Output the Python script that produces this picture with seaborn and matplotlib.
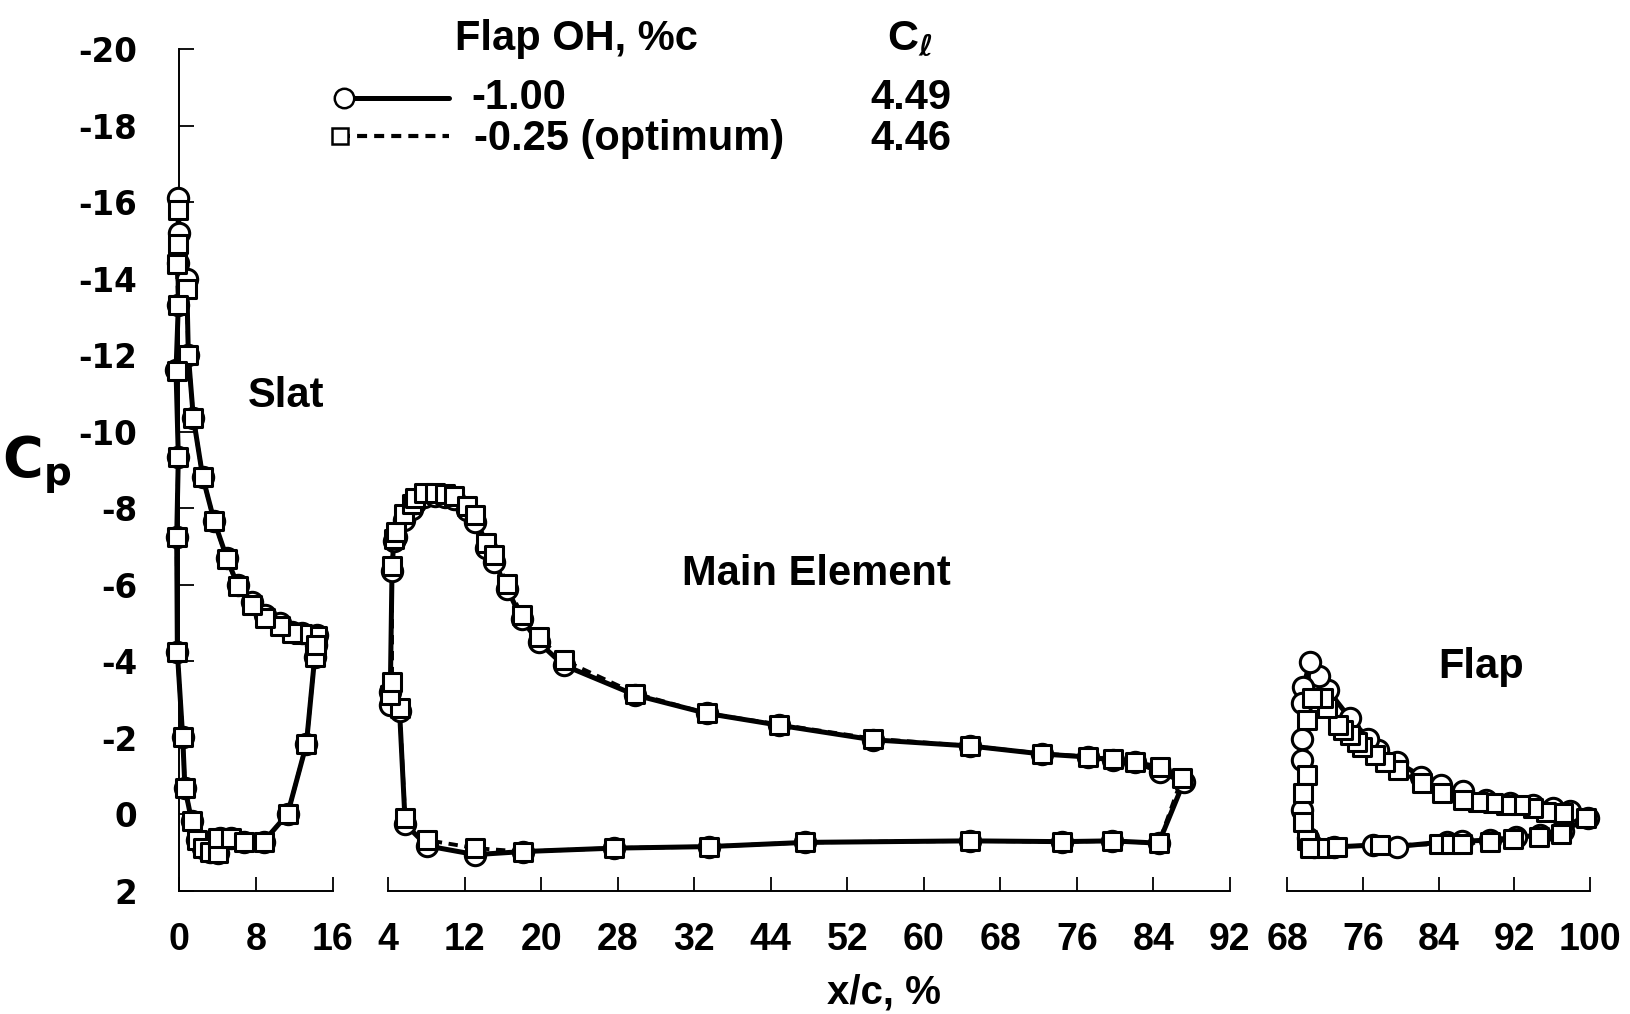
import numpy as np
import pandas as pd
import matplotlib
matplotlib.use("Agg")
import matplotlib.pyplot as plt
from matplotlib.lines import Line2D
import seaborn as sns

# ---- pressure data, x/c in %, Cp ----
# Flap overhang -1.00 %c (circles, solid)
SLAT_X_A = [14.34, 12.78, 11.74, 10.52, 8.96, 7.57, 6.08, 4.97, 3.65, 2.47, 1.49, 0.97, 0.80,
            0.00, -0.07, -0.10, -0.07, -0.31, -0.07, -0.24, -0.17, 0.38, 0.62, 1.32, 1.84,
            2.53, 3.23, 4.10, 4.30, 5.38, 6.77, 8.78, 11.28, 13.23, 14.10, 14.24]
SLAT_CP_A = [-4.70, -4.74, -4.78, -4.99, -5.22, -5.55, -6.00, -6.70, -7.67, -8.81, -10.37, -12.00,
             -13.98, -15.20, -16.10, -14.40, -13.30, -11.60, -9.35, -7.24, -4.24, -2.03, -0.68,
             0.17, 0.67, 0.88, 0.97, 1.01, 0.62, 0.62, 0.71, 0.71, -0.01, -1.83, -4.11, -4.43]

MAIN_X_A = [84.55, 79.67, 74.45, 64.80, 47.60, 37.50, 27.58, 18.07, 13.13, 8.07, 5.80, 5.21,
            4.20, 4.24, 4.42, 4.60, 4.87, 5.63, 6.50, 6.85, 7.72, 8.94, 10.00, 10.86, 12.26,
            13.13, 14.27, 15.11, 16.44, 18.00, 19.74, 22.36, 29.85, 37.33, 44.90, 54.70, 64.80,
            72.36, 77.20, 79.80, 82.10, 84.70, 87.15]
MAIN_CP_A = [0.75, 0.69, 0.71, 0.69, 0.73, 0.84, 0.88, 0.97, 1.05, 0.82, 0.25, -2.70,
             -2.85, -3.20, -6.37, -7.15, -7.25, -7.70, -7.98, -8.15, -8.30, -8.33, -8.30, -8.25,
             -7.95, -7.64, -6.95, -6.60, -5.90, -5.10, -4.50, -3.90, -3.12, -2.64, -2.33, -1.95,
             -1.79, -1.58, -1.50, -1.42, -1.36, -1.12, -0.84]

FLAP_X_A = [99.78, 97.85, 96.09, 93.98, 91.52, 89.06, 86.60, 84.30, 82.20, 79.57, 77.60, 76.58,
            74.65, 72.36, 71.41, 70.43, 69.72, 69.55, 69.55, 69.55, 69.55, 70.25, 70.90, 73.00,
            77.10, 79.57, 84.85, 86.50, 89.40, 92.20, 94.70, 97.20]
FLAP_CP_A = [0.10, -0.09, -0.16, -0.25, -0.29, -0.38, -0.60, -0.77, -0.99, -1.38, -1.68, -1.98,
             -2.51, -3.24, -3.63, -3.98, -3.33, -2.90, -1.98, -1.42, -0.11, 0.62, 0.86, 0.85,
             0.80, 0.84, 0.71, 0.70, 0.67, 0.60, 0.54, 0.42]

# Flap overhang -0.25 %c, optimum (squares, dashed)
SLAT_X_B = [14.34, 12.78, 11.74, 10.52, 8.96, 7.57, 6.08, 4.97, 3.65, 2.47, 1.49, 0.97, 0.80,
            -0.07, -0.07, -0.24, -0.07, -0.24, -0.07, -0.24, -0.17, 0.38, 0.62, 1.32, 1.84,
            2.53, 3.23, 4.10, 4.10, 5.38, 6.77, 8.78, 11.28, 13.23, 14.10, 14.24]
SLAT_CP_B = [-4.66, -4.72, -4.74, -4.92, -5.13, -5.46, -5.96, -6.68, -7.67, -8.81, -10.37, -12.00,
             -13.72, -14.90, -15.80, -14.37, -13.32, -11.59, -9.33, -7.24, -4.24, -2.03, -0.68,
             0.17, 0.67, 0.88, 0.97, 1.01, 0.62, 0.62, 0.71, 0.71, -0.01, -1.83, -4.11, -4.43]

MAIN_X_B = [84.55, 79.67, 74.45, 64.80, 47.60, 37.50, 27.58, 18.07, 13.13, 8.07, 5.80, 5.21,
            4.24, 4.42, 4.42, 4.60, 4.87, 5.63, 6.50, 6.85, 7.72, 8.94, 10.00, 10.86, 12.26,
            13.13, 14.27, 15.11, 16.44, 18.00, 19.74, 22.36, 29.85, 37.33, 44.90, 54.70, 64.80,
            72.36, 77.20, 79.80, 82.10, 84.70, 87.00]
MAIN_CP_B = [0.75, 0.69, 0.71, 0.69, 0.73, 0.84, 0.88, 0.97, 0.88, 0.67, 0.10, -2.77,
             -3.11, -3.46, -6.50, -7.20, -7.39, -7.85, -8.11, -8.28, -8.41, -8.41, -8.37, -8.33,
             -8.05, -7.82, -7.09, -6.78, -6.02, -5.20, -4.63, -4.03, -3.16, -2.64, -2.35, -1.98,
             -1.79, -1.59, -1.51, -1.44, -1.37, -1.25, -0.96]

FLAP_X_B = [99.60, 97.15, 95.39, 93.98, 92.58, 91.17, 89.76, 88.18, 86.60, 84.32, 82.21, 79.74,
            78.34, 77.28, 75.88, 75.35, 74.65, 73.94, 73.41, 72.19, 71.83, 70.60, 70.08, 70.08,
            69.72, 69.72, 70.08, 70.43, 72.19, 73.24, 77.80, 84.10, 85.30, 86.50, 89.40, 91.90,
            94.60, 96.98]
FLAP_CP_B = [0.10, -0.03, -0.07, -0.16, -0.25, -0.25, -0.29, -0.33, -0.38, -0.55, -0.81, -1.16,
             -1.38, -1.55, -1.77, -1.90, -2.07, -2.20, -2.33, -2.77, -3.03, -3.03, -2.46, -1.03,
             -0.55, 0.19, 0.67, 0.88, 0.88, 0.84, 0.80, 0.78, 0.77, 0.76, 0.72, 0.65, 0.58, 0.52]

SERIES_LABELS = ["-1.00", "-0.25 (optimum)"]
CL_VALUES = ["4.49", "4.46"]
ELEMENT_NAMES = ["Slat", "Main Element", "Flap"]

SLAT_TICKS = [0, 8, 16]
MAIN_TICKS = [4, 12, 20, 28, 36, 44, 52, 60, 68, 76, 84, 92]
MAIN_TICK_LABELS = ["4", "12", "20", "28", "32", "44", "52", "60", "68", "76", "84", "92"]
FLAP_TICKS = [68, 76, 84, 92, 100]
Y_TICKS = [-20, -18, -16, -14, -12, -10, -8, -6, -4, -2, 0, 2]
Y_TICK_LABELS = ["-20", "-18", "-16", "-14", "-12", "-10", "-8", "-6", "-4", "-2", "0", "2"]

# ---- style ----
sns.set_style("ticks")
plt.rcParams["font.family"] = ["Liberation Sans", "DejaVu Sans"]
plt.rcParams["font.weight"] = "bold"
plt.rcParams["mathtext.fontset"] = "dejavusans"
for key in ["text.color", "axes.labelcolor", "xtick.color", "ytick.color",
            "xtick.labelcolor", "ytick.labelcolor", "axes.edgecolor"]:
    plt.rcParams[key] = "black"

W, H = 1630, 1014
fig = plt.figure(figsize=(W / 100, H / 100), dpi=100)


def fx(px):
    return px / W


def fy(py):
    return 1 - py / H


bottom, top = fy(891), fy(49)
ax_slat = fig.add_axes([fx(179), bottom, fx(333) - fx(179), top - bottom])
ax_main = fig.add_axes([fx(388), bottom, fx(1230) - fx(388), top - bottom], sharey=ax_slat)
ax_flap = fig.add_axes([fx(1287), bottom, fx(1590) - fx(1287), top - bottom], sharey=ax_slat)


def loop_frame(x, cp):
    # close the contour so the trailing edge is joined
    return pd.DataFrame({"x": np.r_[x, x[:1]], "cp": np.r_[cp, cp[:1]]})


DASH = (0, (2.4, 1.7))
line_a = dict(color="black", lw=3.6, solid_joinstyle="round", zorder=2, clip_on=False)
line_b = dict(color="black", lw=2.8, linestyle=DASH, zorder=2.5, clip_on=False)
circ = dict(marker="o", s=215, facecolor="white", edgecolor="black", linewidth=2.2,
            zorder=3, clip_on=False)
sqr = dict(marker="s", s=165, facecolor="white", edgecolor="black", linewidth=2.2,
           zorder=4, clip_on=False)

elements = [
    (ax_slat, SLAT_X_A, SLAT_CP_A, SLAT_X_B, SLAT_CP_B, (0, 16), SLAT_TICKS, [str(t) for t in SLAT_TICKS]),
    (ax_main, MAIN_X_A, MAIN_CP_A, MAIN_X_B, MAIN_CP_B, (4, 92), MAIN_TICKS, MAIN_TICK_LABELS),
    (ax_flap, FLAP_X_A, FLAP_CP_A, FLAP_X_B, FLAP_CP_B, (68, 100), FLAP_TICKS, [str(t) for t in FLAP_TICKS]),
]

for ax, xa, ca, xb, cb, xlim, ticks, tlabels in elements:
    sns.lineplot(data=loop_frame(xa, ca), x="x", y="cp", sort=False, estimator=None, ax=ax, **line_a)
    sns.lineplot(data=loop_frame(xb, cb), x="x", y="cp", sort=False, estimator=None, ax=ax, **line_b)
    sns.scatterplot(x=xa, y=ca, ax=ax, **circ)
    sns.scatterplot(x=xb, y=cb, ax=ax, **sqr)
    ax.set_xlim(*xlim)
    ax.set_xticks(ticks)
    ax.set_xticklabels(tlabels, fontsize=27, fontweight="bold")
    ax.set_xlabel("")
    ax.set_ylabel("")
    ax.set_facecolor("none")
    for side in ["top", "right"]:
        ax.spines[side].set_visible(False)
    ax.spines["bottom"].set_linewidth(1.4)
    ax.spines["left"].set_linewidth(1.4)
    ax.tick_params(axis="x", direction="in", length=10, width=1.3, pad=22, colors="black")

ax_slat.set_ylim(2, -20)
ax_slat.set_yticks(Y_TICKS)
ax_slat.set_yticklabels(Y_TICK_LABELS, fontsize=23.5, fontweight="bold", fontfamily="DejaVu Sans")
ax_slat.tick_params(axis="y", direction="in", length=11, width=1.3, pad=30, colors="black")

for ax in (ax_main, ax_flap):
    ax.spines["left"].set_visible(False)
    ax.tick_params(axis="y", left=False, labelleft=False)

# element names
fig.text(fx(286), fy(396), ELEMENT_NAMES[0], fontsize=30, fontweight="bold", ha="center", va="center")
fig.text(fx(816), fy(574), ELEMENT_NAMES[1], fontsize=30, fontweight="bold", ha="center", va="center")
fig.text(fx(1481), fy(667), ELEMENT_NAMES[2], fontsize=30, fontweight="bold", ha="center", va="center")

# axis titles
fig.text(fx(2), fy(476), r"$\mathbf{C_p}$", fontsize=40, ha="left", va="baseline")
fig.text(fx(884), fy(1004), "x/c, %", fontsize=29, fontweight="bold", ha="center", va="baseline")

# key
fig.text(fx(455), fy(50), "Flap OH, %c", fontsize=30, fontweight="bold", ha="left", va="baseline")
fig.text(fx(887), fy(50), r"C$_\ell$", fontsize=31, fontweight="bold", ha="left", va="baseline")

key_rows = [
    (98, 109, 471, dict(color="black", lw=3.6), dict(marker="o", ms=14, mfc="white", mec="black", mew=1.8), 344),
    (136, 150, 474, dict(color="black", lw=3.0, linestyle=DASH),
     dict(marker="s", ms=12, mfc="white", mec="black", mew=1.8), 340),
]
for (ly, ty, tx, lstyle, mstyle, mx), label, cl in zip(key_rows, SERIES_LABELS, CL_VALUES):
    fig.add_artist(Line2D([fx(mx), fx(449)], [fy(ly), fy(ly)], transform=fig.transFigure, **lstyle))
    fig.add_artist(Line2D([fx(mx)], [fy(ly)], transform=fig.transFigure, linestyle="none", **mstyle))
    fig.text(fx(tx), fy(ty), label, fontsize=30, fontweight="bold", ha="left", va="baseline")
    fig.text(fx(951), fy(ty), cl, fontsize=30, fontweight="bold", ha="right", va="baseline")

fig.savefig("out.png", dpi=100, facecolor="white")
